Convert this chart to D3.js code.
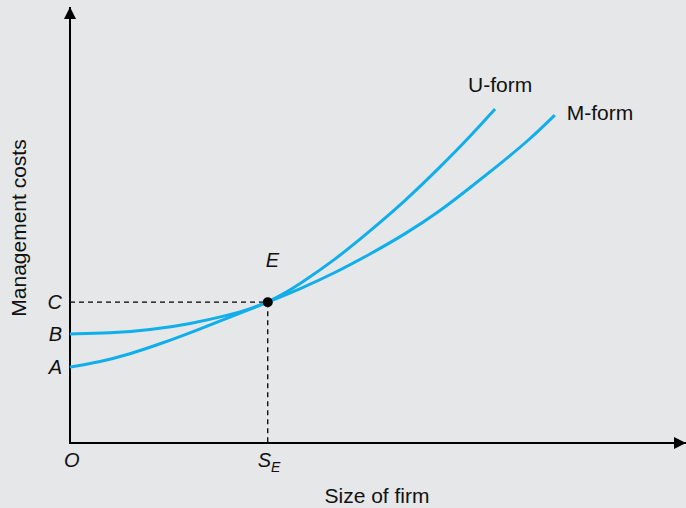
<!DOCTYPE html>
<html>
<head>
<meta charset="utf-8">
<script src="https://cdn.jsdelivr.net/npm/d3@7"></script>
<style>
  html, body { margin: 0; padding: 0; background: #e6e7e8; }
  svg { display: block; }
  text { font-family: "Liberation Sans", Arial, sans-serif; fill: #111; }
</style>
</head>
<body>
<svg id="chart" width="686" height="508"></svg>
<script>
// Management cost curves (size of firm vs. management costs, arbitrary units)
const uFormSize = [0, 0.65, 1.30, 1.95, 2.60, 2.92, 3.21, 3.49, 3.73, 4.30, 4.87, 5.44, 6.01, 6.49, 6.90];
const uFormCost = [2.50, 2.52, 2.59, 2.73, 2.94, 3.07, 3.23, 3.44, 3.65, 4.20, 4.86, 5.55, 6.33, 7.02, 7.66];
const mFormSize = [0, 0.49, 0.97, 1.46, 2.03, 2.60, 3.21, 3.73, 4.30, 4.87, 5.44, 6.01, 6.49, 6.98, 7.47, 7.87];
const mFormCost = [1.74, 1.86, 2.04, 2.27, 2.57, 2.89, 3.23, 3.53, 3.90, 4.33, 4.79, 5.32, 5.85, 6.40, 6.97, 7.52];

// Equilibrium point E and the intercept labels on the cost axis
const equilibrium = { size: 3.21, cost: 3.23 };
const costTicks = [
  { label: "C", value: 3.23 },
  { label: "B", value: 2.50 },
  { label: "A", value: 1.74 }
];
const seriesNames = ["U-form", "M-form"];
const xTitle = "Size of firm";
const yTitle = "Management costs";

const svg = d3.select("#chart");
const x = d3.scaleLinear().domain([0, 10]).range([70, 686]);
const y = d3.scaleLinear().domain([0, 10]).range([443, 7]);

const blue = "#10aeeb";

// Arrow markers for the axes
const defs = svg.append("defs");
defs.append("marker")
  .attr("id", "arrow")
  .attr("viewBox", "0 0 12 12")
  .attr("refX", 12).attr("refY", 6)
  .attr("markerWidth", 12).attr("markerHeight", 12)
  .attr("markerUnits", "userSpaceOnUse")
  .attr("orient", "auto")
  .append("path")
  .attr("d", "M0,0 L12,6 L0,12 Z")
  .attr("fill", "#000");

// Axes
svg.append("line")
  .attr("x1", x(0)).attr("y1", y(0))
  .attr("x2", x(0)).attr("y2", y.range()[1])
  .attr("stroke", "#000").attr("stroke-width", 2)
  .attr("marker-end", "url(#arrow)");
svg.append("line")
  .attr("x1", x(0) - 1).attr("y1", y(0))
  .attr("x2", x.range()[1]).attr("y2", y(0))
  .attr("stroke", "#000").attr("stroke-width", 2)
  .attr("marker-end", "url(#arrow)");

// Dashed guides to E
const guides = svg.append("g")
  .attr("stroke", "#000").attr("stroke-width", 1.3)
  .attr("stroke-dasharray", "5,4");
guides.append("line")
  .attr("x1", x(0)).attr("y1", y(equilibrium.cost))
  .attr("x2", x(equilibrium.size)).attr("y2", y(equilibrium.cost));
guides.append("line")
  .attr("x1", x(equilibrium.size)).attr("y1", y(equilibrium.cost))
  .attr("x2", x(equilibrium.size)).attr("y2", y(0));

// Curves (B-spline through the sampled costs for a smooth stroke)
const line = d3.line()
  .x(d => x(d[0])).y(d => y(d[1]))
  .curve(d3.curveBasis);

const uData = uFormSize.map((s, i) => [s, uFormCost[i]]);
const mData = mFormSize.map((s, i) => [s, mFormCost[i]]);

[uData, mData].forEach(d => {
  svg.append("path")
    .attr("d", line(d))
    .attr("fill", "none")
    .attr("stroke", blue)
    .attr("stroke-width", 3)
    .attr("stroke-linecap", "butt");
});

// Equilibrium dot
svg.append("circle")
  .attr("cx", x(equilibrium.size)).attr("cy", y(equilibrium.cost))
  .attr("r", 5).attr("fill", "#000");

// Series labels
const uEnd = uData[uData.length - 1];
const mEnd = mData[mData.length - 1];
svg.append("text")
  .attr("x", x(uEnd[0]) - 27).attr("y", y(uEnd[1]) - 17)
  .attr("font-size", 21)
  .text(seriesNames[0]);
svg.append("text")
  .attr("x", x(mEnd[0]) + 12).attr("y", y(mEnd[1]) + 5)
  .attr("font-size", 21)
  .text(seriesNames[1]);

// Cost-axis letters
svg.selectAll("text.tick")
  .data(costTicks)
  .join("text")
  .attr("class", "tick")
  .attr("x", 62)
  .attr("y", d => y(d.value) + 7)
  .attr("text-anchor", "end")
  .attr("font-size", 20)
  .attr("font-style", "italic")
  .text(d => d.label);

// Origin
svg.append("text")
  .attr("x", 64).attr("y", 467)
  .attr("font-size", 20).attr("font-style", "italic")
  .text("O");

// S_E
const se = svg.append("text")
  .attr("x", x(equilibrium.size) - 10).attr("y", 467)
  .attr("font-size", 20).attr("font-style", "italic");
se.append("tspan").text("S");
se.append("tspan").attr("font-size", 14).attr("dy", 5).text("E");

// E label
svg.append("text")
  .attr("x", x(equilibrium.size) - 2).attr("y", y(equilibrium.cost) - 35)
  .attr("font-size", 20).attr("font-style", "italic")
  .text("E");

// Axis titles
svg.append("text")
  .attr("x", 377).attr("y", 503)
  .attr("text-anchor", "middle")
  .attr("font-size", 21)
  .text(xTitle);
svg.append("text")
  .attr("transform", "translate(26,228) rotate(-90)")
  .attr("text-anchor", "middle")
  .attr("font-size", 21)
  .text(yTitle);
</script>
</body>
</html>
